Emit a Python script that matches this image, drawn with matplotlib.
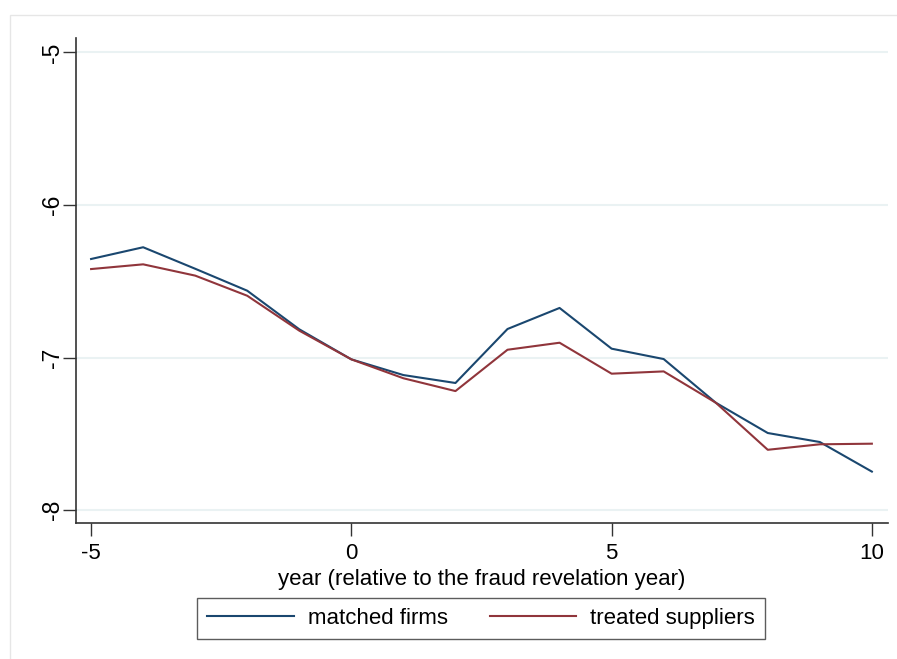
import matplotlib
matplotlib.use("Agg")
import matplotlib.pyplot as plt
from matplotlib.patches import Rectangle

plt.rcParams['font.family'] = ['Liberation Sans', 'DejaVu Sans']

years = list(range(-5, 11))
matched_firms = [-6.354, -6.277, -6.418, -6.562, -6.815, -7.012, -7.115, -7.167,
                 -6.813, -6.675, -6.942, -7.010, -7.296, -7.495, -7.554, -7.748]
treated_suppliers = [-6.420, -6.389, -6.463, -6.595, -6.824, -7.012, -7.136, -7.220,
                     -6.949, -6.903, -7.106, -7.091, -7.296, -7.605, -7.569, -7.565]
xticks = [-5, 0, 5, 10]
yticks = [-5, -6, -7, -8]

W, H = 897, 659
FS = 16
fig = plt.figure(figsize=(W / 100, H / 100), dpi=100)
fig.patch.set_facecolor('white')

# outer graph-region frame
fig.patches.append(Rectangle((10 / W, -0.05), 1.0, 1.05 - 15 / H, transform=fig.transFigure,
                             fill=False, edgecolor='#e6e6e6', linewidth=1.0))

ax = fig.add_axes([76 / W, 1 - 523 / H, (888 - 76) / W, (523 - 38) / H])
ax.plot(years, matched_firms, color='#1a476f', linewidth=1.5, label='matched firms')
ax.plot(years, treated_suppliers, color='#90353b', linewidth=1.5, label='treated suppliers')

ax.set_xlim(-5.29, 10.31)
ax.set_ylim(-8.085, -4.905)
ax.set_xticks(xticks)
ax.set_yticks(yticks)
ax.set_xticklabels([str(v) for v in xticks], fontsize=FS)
ax.set_yticklabels([str(v) for v in yticks], fontsize=FS + 0.5, rotation=90, va='center')
ax.tick_params(axis='both', length=9.5, width=1.0, color='#333333')
ax.tick_params(axis='x', pad=5)
ax.tick_params(axis='y', pad=-1)

for y in yticks:
    ax.axhline(y, color='#eaf2f3', linewidth=1.5, zorder=0)

ax.spines['top'].set_visible(False)
ax.spines['right'].set_visible(False)
for s in ('left', 'bottom'):
    ax.spines[s].set_color('#333333')
    ax.spines[s].set_linewidth(1.2)

ax.set_xlabel('year (relative to the fraud revelation year)', fontsize=FS, labelpad=3.5)

leg = fig.legend(loc='center', bbox_to_anchor=(481 / W, 1 - 618.5 / H), ncol=2,
                 fontsize=FS, frameon=True, fancybox=False, edgecolor='#333333',
                 handlelength=3.9, handletextpad=0.63, columnspacing=1.9,
                 borderpad=0.45, borderaxespad=0)
leg.get_frame().set_linewidth(1.0)

fig.savefig('out.png', dpi=100, facecolor='white')
